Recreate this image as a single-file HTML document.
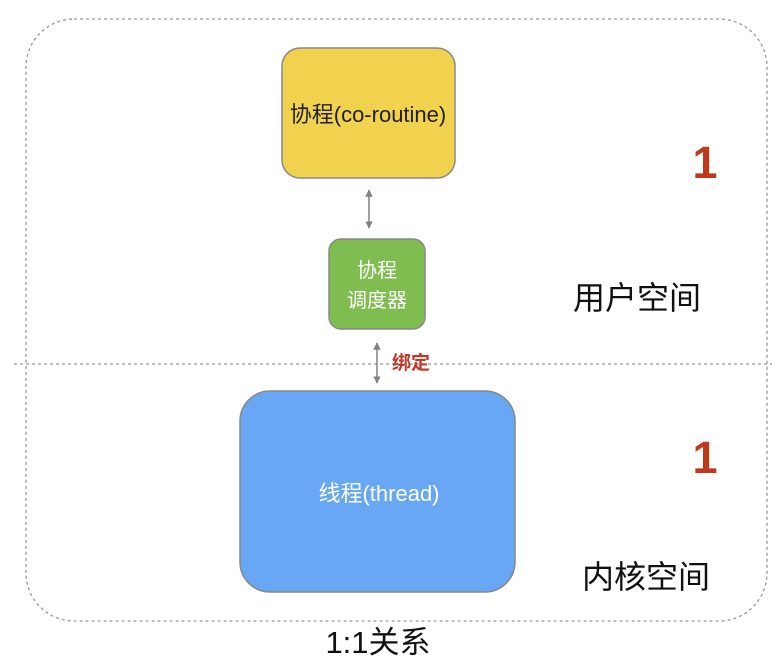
<!DOCTYPE html>
<html><head><meta charset="utf-8"><style>
html,body{margin:0;padding:0;background:#fff;}
svg{display:block;}
text{font-family:"Liberation Sans","Noto Sans CJK SC",sans-serif;}
</style></head><body>
<svg width="772" height="662" viewBox="0 0 772 662" xmlns="http://www.w3.org/2000/svg">
<defs>
<marker id="a" viewBox="0 0 10 10" refX="9" refY="5" markerWidth="5" markerHeight="5" orient="auto-start-reverse"><path d="M0,0 L10,5 L0,10 z" fill="#808080"/></marker>
</defs>
<rect x="26" y="19" width="741" height="602" rx="48" fill="none" stroke="#999" stroke-width="1.3" stroke-dasharray="3,3"/>
<line x1="14" y1="364" x2="772" y2="364" stroke="#999" stroke-width="1.3" stroke-dasharray="3,3"/>
<rect x="282" y="48" width="173" height="130" rx="18" fill="#f0d24e" stroke="#888" stroke-width="1.5"/>
<text x="368" y="122" font-size="22" text-anchor="middle" fill="#222">协程(co-routine)</text>
<line x1="369" y1="190" x2="369" y2="228" stroke="#808080" stroke-width="1.5" marker-start="url(#a)" marker-end="url(#a)"/>
<rect x="329" y="239" width="96" height="90" rx="12" fill="#80bd50" stroke="#888" stroke-width="1.5"/>
<text x="377" y="277" font-size="20" text-anchor="middle" fill="#fff">协程</text>
<text x="377" y="307" font-size="20" text-anchor="middle" fill="#fff">调度器</text>
<line x1="377" y1="343" x2="377" y2="383" stroke="#808080" stroke-width="1.5" marker-start="url(#a)" marker-end="url(#a)"/>
<text x="392" y="369" font-size="19" font-weight="bold" fill="#c0392b">绑定</text>
<rect x="240" y="391" width="275" height="201" rx="30" fill="#68a7f3" stroke="#888" stroke-width="1.5"/>
<text x="379" y="501" font-size="22" text-anchor="middle" fill="#fff">线程(thread)</text>
<text x="705" y="178" font-size="45" font-weight="bold" text-anchor="middle" fill="#c0391c">1</text>
<text x="705" y="473" font-size="45" font-weight="bold" text-anchor="middle" fill="#c0391c">1</text>
<text x="637" y="309" font-size="32" text-anchor="middle" fill="#111">用户空间</text>
<text x="646" y="588" font-size="32" text-anchor="middle" fill="#111">内核空间</text>
<text x="378" y="653" font-size="31" text-anchor="middle" fill="#111">1:1关系</text>
</svg>
</body></html>
